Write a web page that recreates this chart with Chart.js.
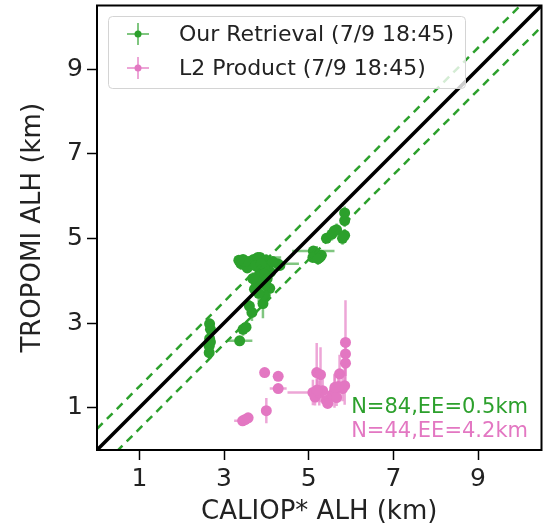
<!DOCTYPE html>
<html>
<head>
<meta charset="utf-8">
<script src="https://cdn.jsdelivr.net/npm/chart.js@4.4.1/dist/chart.umd.min.js"></script>
<style>
  body { margin: 0; background: #fff; }
  #wrap { width: 547px; height: 530px; position: relative; }
</style>
</head>
<body>
<div id="wrap"><canvas id="alhChart"></canvas></div>
<script>
// DATA -----------------------------------------------------------------------

const tickValues = [1, 3, 5, 7, 9]
const axisMax = 10.5
const ee = 0.5

// Our Retrieval (green)
const ourX    = [2.65, 2.65, 2.66, 2.68, 2.66, 2.68, 3.37, 3.45, 3.52, 3.66, 3.60, 3.92,
                 3.45, 3.40, 3.60, 3.70, 3.85, 3.80, 4.00, 3.85, 3.80, 3.77, 3.90, 3.72,
                 4.08, 3.96, 4.10, 4.27, 4.32, 4.05, 3.55, 3.50, 3.95, 5.11, 5.19, 5.26,
                 5.30, 5.10, 5.42, 5.55, 5.61, 5.66, 5.85, 5.80, 5.85, 5.85,
                 3.75, 3.88, 3.95, 4.02, 3.82, 3.68, 3.98, 4.15, 3.35, 5.22]
const ourY    = [2.30, 2.45, 2.63, 2.85, 2.98, 2.55, 2.58, 2.85, 2.90, 3.25, 3.40, 3.46,
                 4.50, 4.40, 4.45, 4.50, 4.55, 4.55, 4.48, 4.25, 4.10, 3.93, 4.00, 3.80,
                 3.82, 3.65, 4.20, 4.40, 4.36, 4.35, 4.30, 4.45, 4.30, 4.70, 4.62, 4.55,
                 4.60, 4.55, 5.00, 5.10, 5.18, 5.20, 5.07, 5.00, 5.42, 5.60,
                 4.35, 4.40, 4.15, 4.05, 3.70, 4.05, 3.90, 4.45, 4.48, 4.52]
const ourXErr = [0.05, 0.05, 0.05, 0.05, 0.05, 0.05, 0.30, 0.10, 0.10, 0.08, 0.08, 0.08,
                 0.20, 0.10, 0.30, 0.10, 0.10, 0.55, 0.10, 0.10, 0.10, 0.10, 0.15, 0.10,
                 0.10, 0.10, 0.10, 0.50, 0.10, 0.10, 0.10, 0.10, 0.10, 0.50, 0.10, 0.10,
                 0.10, 0.10, 0.10, 0.10, 0.10, 0.10, 0.10, 0.10, 0.08, 0.08,
                 0.10, 0.10, 0.10, 0.10, 0.10, 0.10, 0.10, 0.10, 0.10, 0.10]
const ourYErr = [0.15, 0.15, 0.20, 0.15, 0.12, 0.15, 0.10, 0.15, 0.10, 0.20, 0.15, 0.35,
                 0.10, 0.15, 0.10, 0.10, 0.10, 0.10, 0.15, 0.20, 0.20, 0.20, 0.20, 0.15,
                 0.20, 0.25, 0.15, 0.10, 0.10, 0.10, 0.10, 0.10, 0.20, 0.10, 0.20, 0.15,
                 0.10, 0.10, 0.10, 0.15, 0.10, 0.15, 0.15, 0.15, 0.15, 0.15,
                 0.15, 0.15, 0.20, 0.15, 0.20, 0.15, 0.20, 0.10, 0.10, 0.15]

// L2 Product (pink)
const l2X    = [3.44, 3.50, 3.57, 4.00, 3.96, 4.28, 4.28, 5.19, 5.28, 5.10, 5.15, 5.25,
                5.33, 5.42, 5.45, 5.55, 5.61, 5.66, 5.73, 5.85, 5.87, 5.87, 5.87, 5.80,
                5.70, 5.20, 5.62]
const l2Y    = [0.69, 0.72, 0.76, 0.93, 1.83, 1.74, 1.45, 1.83, 1.78, 1.36, 1.25, 1.35,
                1.40, 1.17, 1.10, 1.30, 1.40, 1.24, 1.80, 1.52, 2.05, 2.27, 2.54, 1.45,
                1.50, 1.42, 1.48]
const l2XErr = [0.20, 0.10, 0.10, 0.10, 0.05, 0.08, 0.20, 0.05, 0.05, 0.60, 0.10, 0.10,
                0.10, 0.10, 0.08, 0.10, 0.10, 0.10, 0.05, 0.10, 0.05, 0.05, 0.05, 0.10,
                0.10, 0.10, 0.10]
const l2YErr = [0.08, 0.10, 0.10, 0.30, 0.05, 0.08, 0.08, 0.70, 0.65, 0.30, 0.20, 0.30,
                0.30, 0.15, 0.10, 0.25, 0.40, 0.20, 0.45, 0.45, 0.30, 0.30, 1.00, 0.30,
                0.20, 0.25, 0.30]

const labels = ['Our Retrieval (7/9 18:45)', 'L2 Product (7/9 18:45)']
const statText = ['N=84,EE=0.5km', 'N=44,EE=4.2km']

// SETTINGS -------------------------------------------------------------------

const green = '#2ca02c'
const pink = '#e377c2'
const greenBar = 'rgba(44,160,44,0.6)'
const pinkBar = 'rgba(227,119,194,0.65)'
const font = "'DejaVu Sans', sans-serif"

// HELPERS --------------------------------------------------------------------

function toPoints(xs, ys) {
    return xs.map((x, i) => ({x: x, y: ys[i]}))
}

function getLineDataset(offset, color, dash, width) {
    return {
        type: 'line',
        data: [{x: 0, y: offset}, {x: axisMax, y: axisMax + offset}],
        borderColor: color,
        borderWidth: width,
        borderDash: dash,
        pointRadius: 0,
        fill: false,
        order: 0
    }
}

function getScatterDataset(xs, ys, color) {
    return {
        type: 'scatter',
        data: toPoints(xs, ys),
        backgroundColor: color,
        borderWidth: 0,
        pointRadius: 5.5,
        order: 1
    }
}

const errorSeries = [
    {x: ourX, y: ourY, xe: ourXErr, ye: ourYErr, color: greenBar},
    {x: l2X, y: l2Y, xe: l2XErr, ye: l2YErr, color: pinkBar}
]

// PLUGINS --------------------------------------------------------------------

const errorBars = {
    id: 'errorBars',
    beforeDatasetsDraw(chart) {
        const {ctx, chartArea, scales: {x, y}} = chart
        ctx.save()
        ctx.beginPath()
        ctx.rect(chartArea.left, chartArea.top, chartArea.width, chartArea.height)
        ctx.clip()
        ctx.lineWidth = 2.5
        errorSeries.forEach((s) => {
            ctx.strokeStyle = s.color
            s.x.forEach((xv, i) => {
                const px = x.getPixelForValue(xv)
                const py = y.getPixelForValue(s.y[i])
                ctx.beginPath()
                ctx.moveTo(x.getPixelForValue(xv - s.xe[i]), py)
                ctx.lineTo(x.getPixelForValue(xv + s.xe[i]), py)
                ctx.moveTo(px, y.getPixelForValue(s.y[i] - s.ye[i]))
                ctx.lineTo(px, y.getPixelForValue(s.y[i] + s.ye[i]))
                ctx.stroke()
            })
        })
        ctx.restore()
    }
}

const frameAndLegend = {
    id: 'frameAndLegend',
    afterDatasetsDraw(chart) {
        const {ctx, chartArea: a} = chart
        ctx.save()
        // frame (top + right spines)
        ctx.strokeStyle = '#000'
        ctx.lineWidth = 2
        ctx.strokeRect(a.left, a.top, a.right - a.left, a.bottom - a.top)

        // legend box
        ctx.fillStyle = 'rgba(255,255,255,0.8)'
        ctx.strokeStyle = '#d4d4d4'
        ctx.lineWidth = 1
        ctx.beginPath()
        ctx.roundRect(108.5, 16.5, 357, 72, 4)
        ctx.fill()
        ctx.stroke()

        const colors = [green, pink]
        const barColors = [greenBar, pinkBar]
        const rows = [34, 68]
        rows.forEach((ry, i) => {
            ctx.strokeStyle = barColors[i]
            ctx.lineWidth = 2
            ctx.beginPath()
            ctx.moveTo(127, ry); ctx.lineTo(149, ry)
            ctx.moveTo(138, ry - 11); ctx.lineTo(138, ry + 11)
            ctx.stroke()
            ctx.fillStyle = colors[i]
            ctx.beginPath()
            ctx.arc(138, ry, 3.5, 0, Math.PI * 2)
            ctx.fill()
            ctx.fillStyle = '#222'
            ctx.font = `22px ${font}`
            ctx.textBaseline = 'middle'
            ctx.textAlign = 'left'
            ctx.fillText(labels[i], 179, ry + 1)
        })

        // stats text
        ctx.textAlign = 'right'
        ctx.font = `21px ${font}`
        ctx.fillStyle = green
        ctx.fillText(statText[0], 528, 408)
        ctx.fillStyle = pink
        ctx.fillText(statText[1], 528, 432)
        ctx.restore()
    }
}

// CHART ----------------------------------------------------------------------

function getAxis(title, isX) {
    return {
        type: 'linear',
        min: 0,
        max: axisMax,
        afterBuildTicks: (s) => { s.ticks = tickValues.map((v) => ({value: v})) },
        afterFit: (s) => {
            if (isX) { s.height = 80 } else { s.width = 79 }
            s.paddingTop = 0
            s.paddingBottom = 0
            s.paddingLeft = 0
            s.paddingRight = 0
        },
        grid: {
            drawOnChartArea: false,
            drawTicks: true,
            tickLength: 10,
            tickWidth: 1.5,
            tickColor: '#000'
        },
        border: {display: true, color: '#000', width: 2},
        ticks: {
            color: '#222',
            font: {family: font, size: 25},
            padding: 4,
            maxRotation: 0,
            callback: (v) => `${v}`
        },
        title: {
            display: true,
            text: title,
            color: '#222',
            font: {family: font, size: 26},
            padding: {top: 0, bottom: 2}
        }
    }
}

new Chart(document.getElementById('alhChart'), {
    data: {
        datasets: [
            getLineDataset(0, '#000', [], 3.5),
            getLineDataset(ee, green, [8, 6], 2.5),
            getLineDataset(-ee, green, [8, 6], 2.5),
            getScatterDataset(ourX, ourY, green),
            getScatterDataset(l2X, l2Y, pink)
        ]
    },
    options: {
        responsive: true,
        maintainAspectRatio: false,
        animation: false,
        layout: {padding: {top: 5, right: 5, left: 18, bottom: 0}},
        plugins: {
            legend: {display: false},
            tooltip: {enabled: false}
        },
        scales: {
            x: getAxis('CALIOP* ALH (km)', true),
            y: getAxis('TROPOMI ALH (km)', false)
        }
    },
    plugins: [errorBars, frameAndLegend]
});
</script>
</body>
</html>
